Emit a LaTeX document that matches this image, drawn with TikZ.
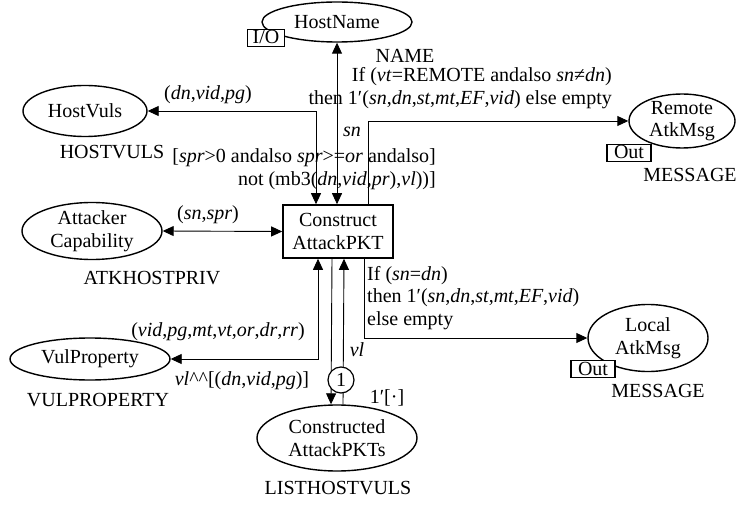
\documentclass[tikz,border=0pt]{standalone}
\usepackage{fontspec}
\setmainfont{Liberation Serif}
\usetikzlibrary{shapes.geometric,arrows.meta,calc}

\begin{document}
\begin{tikzpicture}[x=1pt,y=-1pt,
  font=\fontsize{20}{22.5}\selectfont,
  >={Triangle[length=11pt,width=10pt]},
  pnode/.style={ellipse,draw,line width=1.4pt,inner sep=-3pt,align=center},
  tnode/.style={rectangle,draw,line width=1.6pt,minimum width=110pt,minimum height=53pt,
                align=center,inner sep=0pt},
  portbox/.style={rectangle,draw,fill=white,line width=1.4pt,inner xsep=7pt,inner ysep=1.5pt,
                  text height=13pt,text depth=1pt},
  lbl/.style={inner sep=0pt},
  conn/.style={line width=0.9pt},
  token/.style={circle,draw,fill=white,line width=1.2pt,minimum size=26pt,inner sep=0pt}
]
\useasboundingbox (0,0) rectangle (736,505);

% transition
\node[tnode] (T) at (338,231.5) {Construct\\AttackPKT};

% places
\node[pnode,minimum width=150pt,minimum height=40pt] (hn) at (337,22) {HostName};
\node[pnode,minimum width=124pt,minimum height=51pt] (hv) at (85,111) {HostVuls};
\node[pnode,minimum width=140pt,minimum height=57pt] (ac) at (92,231) {Attacker\\Capability};
\node[pnode,minimum width=160pt,minimum height=42pt] (vp) at (90,359) {VulProperty};
\node[pnode,minimum width=160pt,minimum height=66pt] (cp) at (337,438) {Constructed\\AttackPKTs};
\node[pnode,minimum width=106pt,minimum height=54pt] (rm) at (682,121) {Remote\\AtkMsg};
\node[pnode,minimum width=120pt,minimum height=67pt] (la) at (648,338) {Local\\AtkMsg};

% port tags
\node[portbox,inner xsep=5pt] (hnio) at (266,38) {I/O};
\node[portbox] (rmout) at (629,153) {Out};
\node[portbox] (laout) at (593,369) {Out};

% colour sets
\node[lbl] (csname) at (405,56) {NAME};
\node[lbl] (cshv) at (112,152) {HOSTVULS};
\node[lbl] (csac) at (152,278) {ATKHOSTPRIV};
\node[lbl] (csvp) at (98,400) {VULPROPERTY};
\node[lbl] (cscp) at (338,488) {LISTHOSTVULS};
\node[lbl] (csrm) at (690,175) {MESSAGE};
\node[lbl] (csla) at (658,391) {MESSAGE};

% arc end points on the transition
\coordinate (thv) at ($(T.north)+(-22,0)$);
\coordinate (trm) at ($(T.north)+(30,0)$);
\coordinate (tvp) at ($(T.south)+(-20,0)$);
\coordinate (tla) at ($(T.south)+(26,0)$);
\coordinate (tout) at ($(T.south)+(-6,0)$);
\coordinate (tin) at ($(T.south)+(6,0)$);
\coordinate (cpin) at ($(cp.north)+(-6,0)$);
\coordinate (cpout) at ($(cp.north)+(6,0)$);

% arcs
\draw[conn,<->] (hn.south) -- (hn.south |- T.north);
\draw[conn,<->] (hv.east) -| (thv);
\draw[conn,->] (trm) |- (rm.west);
\draw[conn,<->] (ac.east) -- (T.west);
\draw[conn,<->] (vp.east) -| (tvp);
\draw[conn,->] (tla) |- (la.west);
\draw[conn,->] (tout) -- (cpin);
\draw[conn,->] (cpout) -- (tin);

% marking
\node[token] (tok) at (341,380) {1};
\node[lbl] (init) at (387,398) {1′[·]};

% inscriptions
\node[lbl,align=right,anchor=east] (exrm) at (612,88)
  {If (\textit{vt}=REMOTE andalso \textit{sn}≠\textit{dn})\\
   then 1′(\textit{sn},\textit{dn},\textit{st},\textit{mt},\textit{EF},\textit{vid}) else empty};
\node[lbl] (exsn) at (352,132) {\textit{sn}};
\node[lbl] (exhv) at (208,95) {(\textit{dn},\textit{vid},\textit{pg})};
\node[lbl,align=right,anchor=east] (guard) at (436,169)
  {[\textit{spr}>0 andalso \textit{spr}>=\textit{or} andalso]\\
   not (mb3(\textit{dn},\textit{vid},\textit{pr}),\textit{vl}))]};
\node[lbl] (exac) at (208,215) {(\textit{sn},\textit{spr})};
\node[lbl,align=left,anchor=west] (exla) at (367,298)
  {If (\textit{sn}=\textit{dn})\\
   then 1′(\textit{sn},\textit{dn},\textit{st},\textit{mt},\textit{EF},\textit{vid})\\
   else empty};
\node[lbl] (exvp) at (218,332) {(\textit{vid},\textit{pg},\textit{mt},\textit{vt},\textit{or},\textit{dr},\textit{rr})};
\node[lbl] (exvl) at (242,381) {\textit{vl}\textasciicircum\textasciicircum[(\textit{dn},\textit{vid},\textit{pg})]};
\node[lbl] (exvlin) at (357,350) {\textit{vl}};
\end{tikzpicture}
\end{document}
